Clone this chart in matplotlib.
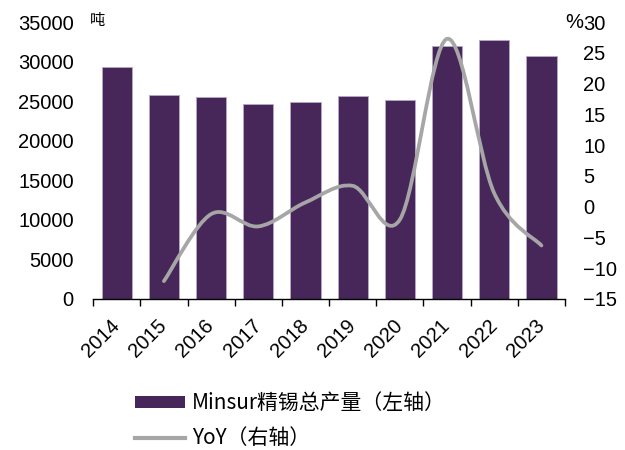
import matplotlib
matplotlib.use("Agg")
import matplotlib.pyplot as plt
import numpy as np
from matplotlib.path import Path
from matplotlib.patches import PathPatch, Patch
from matplotlib.lines import Line2D

years = ["2014", "2015", "2016", "2017", "2018", "2019", "2020", "2021", "2022", "2023"]
production = [29350, 25810, 25490, 24680, 24850, 25690, 25140, 32000, 32770, 30700]
yoy = [np.nan, -12.1, -1.2, -3.2, 0.7, 3.4, -2.1, 27.3, 2.2, -6.3]
left_ticks = [0, 5000, 10000, 15000, 20000, 25000, 30000, 35000]
right_ticks = [-15, -10, -5, 0, 5, 10, 15, 20, 25, 30]

bar_color = "#47265a"
line_color = "#a6a6a6"

plt.rcParams['font.family'] = ['Liberation Sans', 'Noto Sans CJK SC', 'DejaVu Sans']

fig = plt.figure(figsize=(6.25, 4.5), dpi=100)
ax = fig.add_axes([0.149, 0.3356, 0.755, 0.615])
ax2 = ax.twinx()

x = np.arange(len(years))
ax.bar(x, production, width=0.64, color=bar_color, edgecolor="#b8a8c8", linewidth=0.6, zorder=2)
ax.set_xlim(-0.5, len(years) - 0.5)
ax.set_ylim(0, 35000)
ax.set_yticks(left_ticks)
ax.set_yticklabels([str(v) for v in left_ticks])

# smoothed line (Catmull-Rom -> cubic Bezier) through data points
pts = [(xi, yi) for xi, yi in zip(x, yoy) if not np.isnan(yi)]
P = np.array(pts, dtype=float)
verts = [tuple(P[0])]
codes = [Path.MOVETO]
n = len(P)
for i in range(n - 1):
    p0 = P[i - 1] if i > 0 else P[i]
    p1 = P[i]
    p2 = P[i + 1]
    p3 = P[i + 2] if i + 2 < n else P[i + 1]
    c1 = p1 + (p2 - p0) / 6.0
    c2 = p2 - (p3 - p1) / 6.0
    verts += [tuple(c1), tuple(c2), tuple(p2)]
    codes += [Path.CURVE4] * 3
ax2.add_patch(PathPatch(Path(verts, codes), fill=False, edgecolor=line_color,
                        linewidth=2.7, capstyle='round', joinstyle='round', zorder=3))
ax2.set_ylim(-15, 30)
ax2.set_yticks(right_ticks)
ax2.set_yticklabels([str(v).replace('-', '\u2212') for v in right_ticks])

for a in (ax, ax2):
    for s in ("top", "left", "right", "bottom"):
        a.spines[s].set_visible(False)
ax.spines["bottom"].set_visible(True)
ax.spines["bottom"].set_linewidth(1.0)

ax.tick_params(axis='y', length=0, pad=14, labelsize=14.5)
ax2.tick_params(axis='y', length=0, pad=13, labelsize=14.5)

ax.set_xticks(np.arange(-0.5, len(years), 1.0), minor=False)
ax.set_xticklabels([])
ax.tick_params(axis='x', which='major', length=5, width=1.0, direction='out')
ax.set_xticks(x, minor=True)
ax.set_xticklabels(years, minor=True, rotation=45, ha='right', va='center',
                   rotation_mode='anchor', fontsize=14.5)
ax.tick_params(axis='x', which='minor', length=0, pad=17)

fig.text(0.1445, 0.955, "吨", fontsize=11, family=['Noto Sans CJK SC'], ha='left', va='center')
fig.text(0.9325, 0.951, "%", fontsize=14.5, ha='right', va='center')

handles = [Patch(facecolor=bar_color, edgecolor='none'),
           Line2D([0], [0], color=line_color, linewidth=3)]
labels = ["Minsur精锡总产量（左轴）", "YoY（右轴）"]
fig.legend(handles, labels, loc='upper left', bbox_to_anchor=(0.216, 0.128),
           frameon=False, prop={'family': ['Noto Sans CJK SC'], 'size': 15},
           handlelength=2.4, handleheight=0.5, labelspacing=0.62, handletextpad=0.33,
           borderaxespad=0, borderpad=0)

fig.savefig("out.png", dpi=100)
